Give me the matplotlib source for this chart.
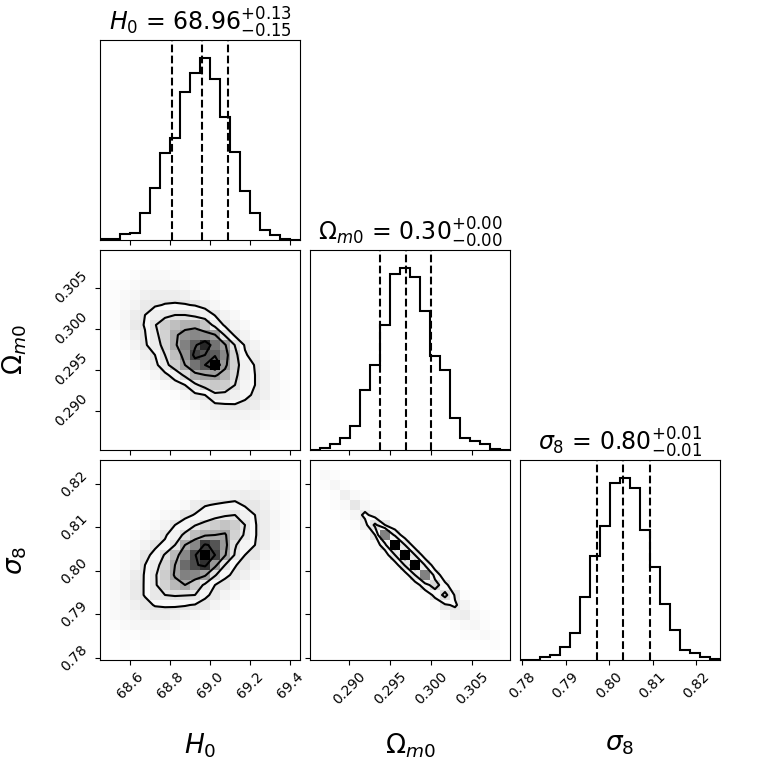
import numpy as np
import matplotlib
matplotlib.use("Agg")
import matplotlib.pyplot as plt
from matplotlib.colors import LinearSegmentedColormap, ListedColormap

# parameter names, plot ranges and ticks
labels = [r"$H_0$", r"$\Omega_{m0}$", r"$\sigma_8$"]
ranges = [(68.45, 69.45), (0.2852, 0.3096), (0.7795, 0.8255)]
ticks = [[68.6, 68.8, 69.0, 69.2, 69.4],
         [0.290, 0.295, 0.300, 0.305],
         [0.78, 0.79, 0.80, 0.81, 0.82]]
tick_labels = [["68.6", "68.8", "69.0", "69.2", "69.4"],
               ["0.290", "0.295", "0.300", "0.305"],
               ["0.78", "0.79", "0.80", "0.81", "0.82"]]

# 16th / 50th / 84th percentiles
quant_h0 = [68.81, 68.96, 69.09]
quant_om = [0.2937, 0.2969, 0.3000]
quant_s8 = [0.7971, 0.8033, 0.8095]

# 1d histograms (20 bins over the plot range)
hist_h0 = [2, 2, 17, 22, 80, 155, 260, 305, 445, 500, 545, 482, 368, 265, 148, 82, 30, 15, 2, 0]
hist_om = [0, 5, 18, 35, 72, 180, 255, 375, 528, 545, 520, 418, 282, 240, 95, 35, 28, 18, 2, 0]
hist_s8 = [0, 0, 8, 15, 38, 80, 190, 312, 402, 530, 545, 515, 390, 280, 168, 90, 30, 22, 8, 2]

# 2d histograms, rows listed from the top of the panel down
grid_h0_om = [
    [0, 0, 0, 0, 0, 0, 0, 0, 0, 0, 0, 0, 0, 0, 0, 0, 0, 0, 0, 0],
    [0, 0, 0, 0, 0, 1, 0, 1, 0, 0, 0, 0, 0, 0, 0, 0, 0, 0, 0, 0],
    [0, 0, 0, 1, 2, 2, 2, 1, 1, 0, 0, 0, 0, 0, 0, 0, 0, 0, 0, 0],
    [0, 1, 1, 2, 3, 3, 3, 3, 2, 1, 0, 1, 0, 0, 0, 0, 0, 0, 0, 0],
    [1, 1, 2, 3, 5, 6, 6, 6, 5, 3, 2, 1, 0, 0, 0, 0, 0, 0, 0, 0],
    [0, 1, 2, 4, 7, 11, 14, 15, 14, 12, 6, 3, 1, 0, 0, 0, 0, 0, 0, 0],
    [0, 1, 3, 6, 13, 24, 30, 34, 34, 30, 25, 12, 4, 2, 0, 0, 0, 0, 0, 0],
    [0, 1, 3, 7, 14, 33, 44, 50, 55, 56, 48, 28, 10, 4, 2, 0, 0, 0, 0, 0],
    [0, 0, 2, 5, 12, 30, 42, 58, 65, 68, 66, 61, 32, 10, 4, 1, 0, 0, 0, 0],
    [0, 0, 1, 4, 10, 26, 40, 58, 70, 80, 92, 74, 62, 33, 11, 4, 1, 0, 0, 0],
    [0, 0, 0, 2, 5, 13, 34, 50, 66, 86, 82, 80, 68, 40, 15, 6, 2, 1, 0, 0],
    [0, 0, 0, 1, 3, 7, 28, 44, 60, 74, 82, 100, 64, 42, 22, 12, 4, 2, 0, 0],
    [0, 0, 0, 0, 1, 3, 8, 22, 38, 56, 60, 62, 54, 38, 22, 13, 5, 2, 0, 0],
    [0, 0, 0, 0, 0, 1, 2, 5, 13, 30, 42, 46, 44, 34, 20, 13, 5, 2, 1, 0],
    [0, 0, 0, 0, 0, 0, 0, 1, 3, 9, 13, 31, 30, 24, 16, 11, 5, 2, 1, 0],
    [0, 0, 0, 0, 0, 0, 0, 0, 1, 2, 4, 9, 11, 12, 10, 6, 3, 2, 1, 0],
    [0, 0, 0, 0, 0, 0, 0, 0, 0, 1, 2, 3, 4, 4, 4, 3, 2, 1, 1, 0],
    [0, 0, 0, 0, 0, 0, 0, 0, 0, 1, 1, 2, 2, 3, 2, 2, 1, 0, 0, 0],
    [0, 0, 0, 0, 0, 0, 0, 0, 0, 0, 0, 1, 1, 1, 1, 1, 0, 0, 0, 0],
    [0, 0, 0, 0, 0, 0, 0, 0, 0, 0, 0, 0, 0, 0, 1, 0, 0, 0, 0, 0],
]

grid_h0_s8 = [
    [0, 0, 0, 0, 0, 0, 0, 0, 0, 0, 0, 0, 0, 0, 1, 0, 1, 0, 0, 0],
    [0, 0, 0, 0, 0, 0, 0, 0, 0, 0, 0, 1, 0, 1, 1, 2, 1, 1, 0, 0],
    [0, 0, 0, 0, 0, 0, 0, 0, 0, 1, 1, 2, 2, 2, 2, 3, 3, 1, 0, 0],
    [0, 0, 0, 0, 0, 0, 0, 0, 1, 1, 2, 3, 4, 5, 6, 5, 4, 2, 1, 0],
    [0, 0, 0, 0, 0, 0, 1, 1, 2, 6, 12, 14, 16, 18, 11, 8, 5, 2, 1, 0],
    [0, 0, 0, 0, 0, 1, 2, 3, 9, 14, 20, 26, 30, 32, 24, 13, 6, 3, 1, 0],
    [0, 0, 0, 0, 1, 2, 4, 13, 20, 31, 38, 44, 48, 44, 32, 14, 6, 3, 1, 0],
    [0, 0, 0, 1, 2, 4, 11, 22, 36, 50, 56, 58, 60, 42, 30, 14, 6, 2, 1, 0],
    [0, 0, 1, 2, 4, 11, 16, 32, 58, 68, 88, 82, 64, 34, 20, 13, 6, 2, 0, 0],
    [0, 1, 2, 3, 10, 16, 34, 52, 68, 85, 100, 86, 60, 30, 13, 8, 3, 1, 0, 0],
    [0, 1, 2, 4, 13, 26, 40, 58, 76, 84, 90, 64, 32, 14, 8, 4, 2, 0, 0, 0],
    [1, 1, 3, 6, 14, 30, 44, 60, 70, 68, 61, 34, 16, 10, 5, 2, 0, 0, 0, 0],
    [1, 2, 4, 7, 14, 30, 42, 52, 58, 46, 28, 13, 8, 4, 2, 0, 0, 0, 0, 0],
    [1, 2, 4, 7, 14, 30, 32, 34, 33, 32, 16, 9, 4, 2, 0, 0, 0, 0, 0, 0],
    [0, 2, 3, 5, 9, 14, 15, 15, 14, 12, 8, 4, 2, 0, 0, 0, 0, 0, 0, 0],
    [1, 2, 3, 4, 5, 6, 6, 5, 4, 3, 2, 1, 0, 0, 0, 0, 0, 0, 0, 0],
    [0, 1, 2, 3, 3, 3, 3, 2, 1, 1, 0, 0, 0, 0, 0, 0, 0, 0, 0, 0],
    [0, 0, 1, 1, 2, 1, 1, 0, 0, 0, 0, 0, 0, 0, 0, 0, 0, 0, 0, 0],
    [0, 0, 1, 0, 1, 0, 0, 0, 0, 0, 0, 0, 0, 0, 0, 0, 0, 0, 0, 0],
    [0, 0, 0, 0, 0, 0, 0, 0, 0, 0, 0, 0, 0, 0, 0, 0, 0, 0, 0, 0],
]

# Omega_m0 vs sigma8 is a thin ridge: store it as diagonal bands (top-left -> bottom-right)
om_s8_diag = [1, 2, 3, 5, 9, 16, 34, 70, 100, 100, 100, 70, 40, 36, 14, 6, 3, 2, 1, 0]
om_s8_up1 = [1, 1, 1, 2, 3, 5, 12, 24, 30, 30, 28, 22, 16, 10, 4, 2, 1, 1, 0]
om_s8_lo1 = [0, 1, 1, 2, 3, 6, 12, 22, 30, 32, 30, 22, 16, 10, 5, 2, 1, 0, 0]
om_s8_up2 = [0, 0, 0, 1, 1, 1, 2, 3, 3, 3, 3, 2, 2, 1, 1, 1, 0, 0]
om_s8_lo2 = [0, 0, 1, 1, 1, 1, 2, 3, 3, 3, 3, 2, 2, 2, 1, 1, 0, 0]

grid_om_s8 = (np.diag(om_s8_diag) + np.diag(om_s8_up1, 1) + np.diag(om_s8_lo1, -1)
              + np.diag(om_s8_up2, 2) + np.diag(om_s8_lo2, -2))


def sigma_levels(H):
    # same recipe as corner: 0.5, 1, 1.5, 2 sigma
    levels = 1.0 - np.exp(-0.5 * np.arange(0.5, 2.1, 0.5) ** 2)
    Hflat = np.sort(H.flatten())[::-1]
    sm = np.cumsum(Hflat)
    sm /= sm[-1]
    V = np.empty(len(levels))
    for i, v0 in enumerate(levels):
        try:
            V[i] = Hflat[sm <= v0][-1]
        except IndexError:
            V[i] = Hflat[0]
    V.sort()
    m = np.diff(V) == 0
    while np.any(m):
        V[np.where(m)[0][0]] *= 1.0 - 1e-4
        m = np.diff(V) == 0
    V.sort()
    return V


density_cmap = LinearSegmentedColormap.from_list("density_cmap", ["k", (1, 1, 1, 0)])
white_cmap = ListedColormap([(1, 1, 1), (1, 1, 1)])


def draw_2d(ax, rows, xr, yr):
    H = np.flipud(np.array(rows, dtype=float))  # now bottom -> top
    ny, nx = H.shape
    xe = np.linspace(xr[0], xr[1], nx + 1)
    ye = np.linspace(yr[0], yr[1], ny + 1)
    xc = 0.5 * (xe[1:] + xe[:-1])
    yc = 0.5 * (ye[1:] + ye[:-1])
    V = sigma_levels(H)

    # faint cloud for the samples outside the contours
    rgba = np.zeros((ny, nx, 4))
    rgba[..., :3] = 0.4
    rgba[..., 3] = np.clip(H * 0.02, 0, 0.16)
    ax.imshow(rgba, extent=[xr[0], xr[1], yr[0], yr[1]], origin="lower",
              aspect="auto", interpolation="nearest", zorder=0)

    # padded grid for the contours
    H2 = H.min() + np.zeros((ny + 4, nx + 4))
    H2[2:-2, 2:-2] = H
    H2[2:-2, 1] = H[:, 0]
    H2[2:-2, -2] = H[:, -1]
    H2[1, 2:-2] = H[0]
    H2[-2, 2:-2] = H[-1]
    dx = xc[1] - xc[0]
    dy = yc[1] - yc[0]
    X2 = np.concatenate([xc[0] + np.array([-2, -1]) * dx, xc, xc[-1] + np.array([1, 2]) * dx])
    Y2 = np.concatenate([yc[0] + np.array([-2, -1]) * dy, yc, yc[-1] + np.array([1, 2]) * dy])

    ax.contourf(X2, Y2, H2, [V.min(), H.max()], cmap=white_cmap, antialiased=False)
    ax.pcolormesh(xe, ye, H.max() - H, cmap=density_cmap)
    ax.contour(X2, Y2, H2, V, colors="k", linewidths=1.5)
    ax.set_xlim(xr)
    ax.set_ylim(yr)


def draw_1d(ax, counts, xr, q, label):
    edges = np.linspace(xr[0], xr[1], len(counts) + 1)
    ax.hist(edges[:-1], bins=edges, weights=counts, histtype="step", color="k", linewidth=1.5)
    for v in q:
        ax.axvline(v, ls="dashed", color="k", linewidth=1.5)
    ax.set_xlim(xr)
    ax.set_ylim(0, 1.1 * max(counts))
    ax.set_yticks([])
    title = "{0} = ${1:.2f}_{{-{2:.2f}}}^{{+{3:.2f}}}$".format(label, q[1], q[1] - q[0], q[2] - q[1])
    ax.set_title(title, fontsize=17)


fig, axes = plt.subplots(3, 3, figsize=(7.6, 7.6), dpi=100)
fig.subplots_adjust(left=100 / 760, right=720 / 760, bottom=100 / 760, top=720 / 760,
                    wspace=0.05, hspace=0.05)

hists = [hist_h0, hist_om, hist_s8]
quants = [quant_h0, quant_om, quant_s8]
grids = {(1, 0): grid_h0_om, (2, 0): grid_h0_s8, (2, 1): grid_om_s8}

for i in range(3):
    for j in range(3):
        ax = axes[i, j]
        if j > i:
            ax.set_frame_on(False)
            ax.set_xticks([])
            ax.set_yticks([])
            continue
        if i == j:
            draw_1d(ax, hists[i], ranges[i], quants[i], labels[i])
        else:
            draw_2d(ax, grids[(i, j)], ranges[j], ranges[i])
            ax.set_yticks(ticks[i])
            if j == 0:
                ax.set_yticklabels(tick_labels[i], rotation=45, va="center")
                ax.set_ylabel(labels[i], fontsize=19)
                ax.yaxis.set_label_coords(-0.355, 0.5)
            else:
                ax.set_yticklabels([])
        ax.set_xticks(ticks[j])
        if i == 2:
            ax.set_xticklabels(tick_labels[j], rotation=45)
            ax.set_xlabel(labels[j], fontsize=19)
            ax.xaxis.set_label_coords(0.5, -0.355)
        else:
            ax.set_xticklabels([])

fig.savefig("out.png", dpi=100)
